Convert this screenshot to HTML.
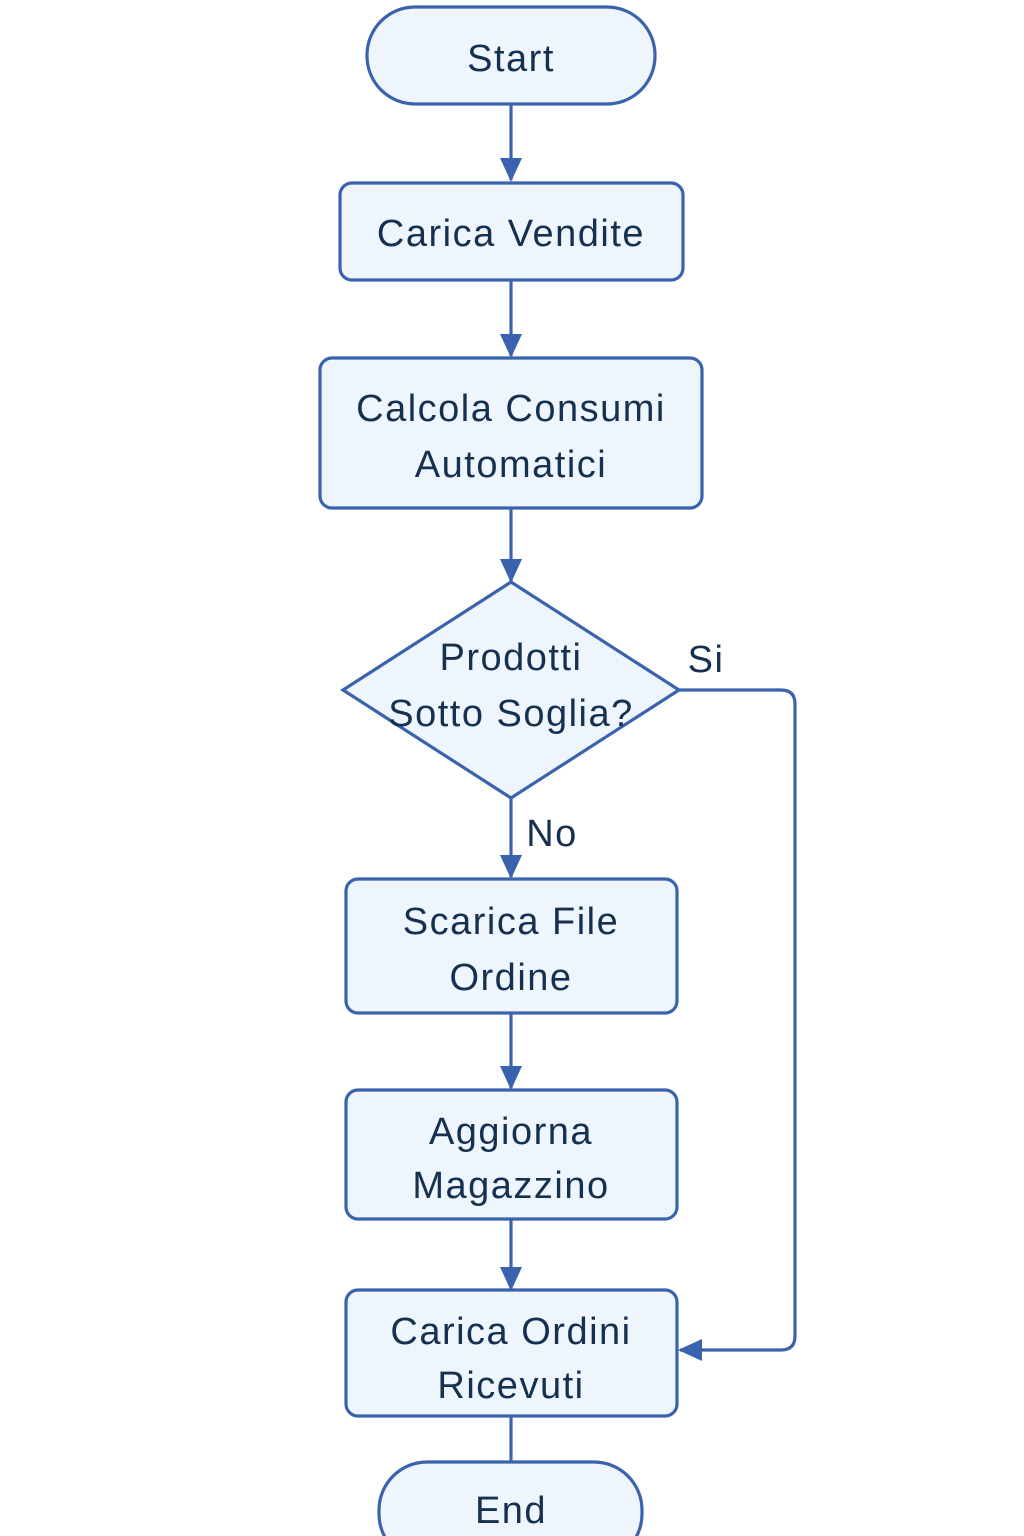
<!DOCTYPE html>
<html><head><meta charset="utf-8"><style>
html,body{margin:0;padding:0;background:#fff;width:1024px;height:1536px;overflow:hidden}
svg{display:block}
text{font-family:"Liberation Sans",sans-serif;font-size:38px;letter-spacing:1.5px;fill:#16304f;text-anchor:middle}
</style></head><body>
<svg width="1024" height="1536" viewBox="0 0 1024 1536">
<defs>
<marker id="b" markerWidth="24" markerHeight="22" refX="22" refY="11" orient="auto" markerUnits="userSpaceOnUse" viewBox="0 0 24 22"><path d="M0,0 L24,11 L0,22z" fill="#3b63ad"/></marker></defs>
<g fill="#eef5fd" stroke="#3b63ad" stroke-width="3.2">
<rect x="367" y="7" width="288" height="97" rx="48"/>
<rect x="340" y="183" width="343" height="97" rx="12"/>
<rect x="320" y="358" width="382" height="150" rx="12"/>
<polygon points="511,582 679,690 511,798 343,690"/>
<rect x="346" y="879" width="331" height="134" rx="12"/>
<rect x="346" y="1090" width="331" height="129" rx="12"/>
<rect x="346" y="1290" width="331" height="126" rx="12"/>
<rect x="379" y="1462" width="263" height="100" rx="48"/>
</g>
<g stroke="#3b63ad" stroke-width="3.2" fill="none">
<line x1="511" y1="104" x2="511" y2="180" marker-end="url(#b)"/>
<line x1="511" y1="280" x2="511" y2="356" marker-end="url(#b)"/>
<line x1="511" y1="508" x2="511" y2="581" marker-end="url(#b)"/>
<line x1="511" y1="798" x2="511" y2="877" marker-end="url(#b)"/>
<line x1="511" y1="1013" x2="511" y2="1088" marker-end="url(#b)"/>
<line x1="511" y1="1219" x2="511" y2="1289" marker-end="url(#b)"/>
<line x1="511" y1="1416" x2="511" y2="1462"/>
<path d="M679,690 H781 Q795,690 795,704 V1336 Q795,1350 781,1350 H680" marker-end="url(#b)"/>
</g>
<text x="511" y="71">Start</text>
<text x="511" y="246">Carica Vendite</text>
<text x="511" y="421">Calcola Consumi</text>
<text x="511" y="477">Automatici</text>
<text x="511" y="670">Prodotti</text>
<text x="511" y="726">Sotto Soglia?</text>
<text x="706" y="672">Si</text>
<text x="552" y="846">No</text>
<text x="511" y="934">Scarica File</text>
<text x="511" y="990">Ordine</text>
<text x="511" y="1144">Aggiorna</text>
<text x="511" y="1198">Magazzino</text>
<text x="511" y="1344">Carica Ordini</text>
<text x="511" y="1398">Ricevuti</text>
<text x="511" y="1523">End</text>
</svg>
</body></html>
